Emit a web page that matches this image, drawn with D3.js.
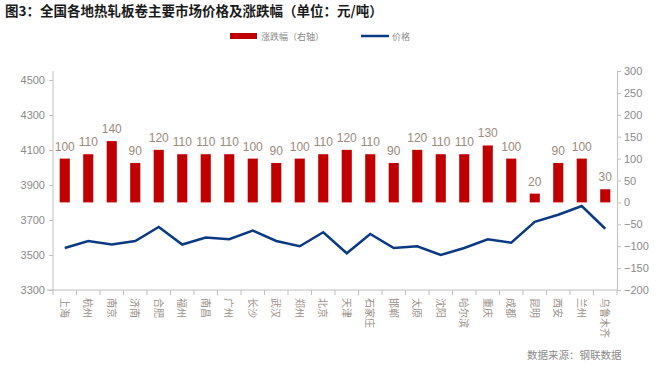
<!DOCTYPE html>
<html>
<head>
  <meta charset="utf-8">
  <title>热轧板卷主要市场价格及涨跌幅</title>
  <style>
  body {
    margin: 0px;
    background: #fff;
  }
  text {
    font-family: "Liberation Sans", Arial, sans-serif;
  }
  .cjk {
    font-family: "Noto Sans CJK SC", sans-serif;
  }
  .axis path, .axis line {
    stroke: #bfbfbf;
  }
  .axis text {
    fill: #8a8a8a;
    font-size: 11px;
  }
  </style>
</head>
<body>
  <svg width="664" height="371"></svg>
  <script src="https://d3js.org/d3.v7.min.js"></script>
  <script>
  var cities = ["上海", "杭州", "南京", "济南", "合肥", "福州", "南昌", "广州", "长沙", "武汉", "郑州", "北京",
    "天津", "石家庄", "邯郸", "太原", "沈阳", "哈尔滨", "重庆", "成都", "昆明", "西安", "兰州", "乌鲁木齐"];
  var change = [100, 110, 140, 90, 120, 110, 110, 110, 100, 90, 100, 110,
    120, 110, 90, 120, 110, 110, 130, 100, 20, 90, 100, 30];
  var price = [3540, 3580, 3560, 3580, 3660, 3560, 3600, 3590, 3640, 3580, 3550, 3630,
    3510, 3620, 3540, 3550, 3500, 3540, 3590, 3570, 3690, 3730, 3780, 3650];
  var leftTicks = [3300, 3500, 3700, 3900, 4100, 4300, 4500];
  var rightTicks = [-200, -150, -100, -50, 0, 50, 100, 150, 200, 250, 300];

  var svg = d3.select("svg");
  var x0 = 53, x1 = 617, yTop = 71, yBot = 290;

  var x = d3.scaleBand().domain(cities).range([x0, x1]).paddingInner(0.57).paddingOuter(0.285);
  var xb = d3.scaleBand().domain(cities).range([x0, x1]);
  var yL = d3.scaleLinear().domain([3300, 4500]).range([yBot, 80]);
  var yR = d3.scaleLinear().domain([-200, 300]).range([yBot, yTop]);

  // title
  svg.append("text")
    .attr("class", "cjk")
    .attr("x", 5).attr("y", 16)
    .attr("font-size", "13.5px")
    .attr("font-weight", "bold")
    .attr("fill", "#1a1a1a")
    .text("图3：全国各地热轧板卷主要市场价格及涨跌幅（单位：元/吨）");

  // legend
  svg.append("rect").attr("x", 230).attr("y", 33).attr("width", 27).attr("height", 6).attr("fill", "#c00000");
  svg.append("text").attr("class", "cjk").attr("x", 261).attr("y", 39.5)
    .attr("font-size", "9px").attr("fill", "#8a8a8a").text("涨跌幅（右轴）");
  svg.append("line").attr("x1", 361).attr("x2", 389).attr("y1", 36).attr("y2", 36)
    .attr("stroke", "#0b3a82").attr("stroke-width", 2.5);
  svg.append("text").attr("class", "cjk").attr("x", 392).attr("y", 39.5)
    .attr("font-size", "9px").attr("fill", "#8a8a8a").text("价格");

  // axes
  svg.append("g").attr("class", "axis")
    .attr("transform", "translate(" + x0 + ",0)")
    .call(d3.axisLeft(yL).tickValues(leftTicks).tickSize(4).tickPadding(4).tickFormat(d3.format("d")))
    .call(function(g) { g.select(".domain").attr("d", "M-0," + yTop + "V" + yBot); });

  svg.append("g").attr("class", "axis")
    .attr("transform", "translate(" + x1 + ",0)")
    .call(d3.axisRight(yR).tickValues(rightTicks).tickSize(4).tickPadding(3)
      .tickFormat(function(d) { return d < 0 ? "\u2212" + Math.abs(d) : d; }));

  var xAxis = svg.append("g").attr("class", "axis")
    .attr("transform", "translate(0," + yBot + ")");
  xAxis.append("line").attr("x1", x0 - 6).attr("x2", x1).attr("y1", 0).attr("y2", 0).attr("stroke", "#bfbfbf");
  xAxis.selectAll(".tk")
    .data(cities.concat(["end"]))
    .enter().append("line")
    .attr("class", "tk")
    .attr("x1", function(d, i) { return x0 + i * xb.bandwidth(); })
    .attr("x2", function(d, i) { return x0 + i * xb.bandwidth(); })
    .attr("y1", 0).attr("y2", 5);

  // category labels, rotated
  svg.selectAll(".cat")
    .data(cities)
    .enter().append("text")
    .attr("class", "cjk cat")
    .attr("font-size", "10px")
    .attr("fill", "#9a8f85")
    .attr("transform", function(d) { return "translate(" + (xb(d) + xb.bandwidth() / 2 - 4) + ",298) rotate(90)"; })
    .text(function(d) { return d; });

  // bars
  svg.selectAll(".bar")
    .data(cities)
    .enter().append("rect")
    .attr("class", "bar")
    .attr("x", function(d) { return x(d); })
    .attr("width", x.bandwidth())
    .attr("y", function(d, i) { return yR(change[i]); })
    .attr("height", function(d, i) { return yR(0) - yR(change[i]); })
    .attr("fill", "#c00000");

  svg.selectAll(".lbl")
    .data(cities)
    .enter().append("text")
    .attr("class", "lbl")
    .attr("x", function(d) { return x(d) + x.bandwidth() / 2; })
    .attr("y", function(d, i) { return yR(change[i]) - 8; })
    .attr("text-anchor", "middle")
    .attr("font-size", "12px")
    .attr("fill", "#998a7a")
    .text(function(d, i) { return change[i]; });

  // price line
  var line = d3.line()
    .x(function(d, i) { return xb(cities[i]) + xb.bandwidth() / 2; })
    .y(function(d) { return yL(d); });
  svg.append("path")
    .datum(price)
    .attr("d", line)
    .attr("fill", "none")
    .attr("stroke", "#0b3a82")
    .attr("stroke-width", 2.5);

  // source
  svg.append("text").attr("class", "cjk")
    .attr("x", 527).attr("y", 359)
    .attr("font-size", "10.5px")
    .attr("fill", "#8a8a8a")
    .text("数据来源：钢联数据");
  </script>
</body>
</html>
